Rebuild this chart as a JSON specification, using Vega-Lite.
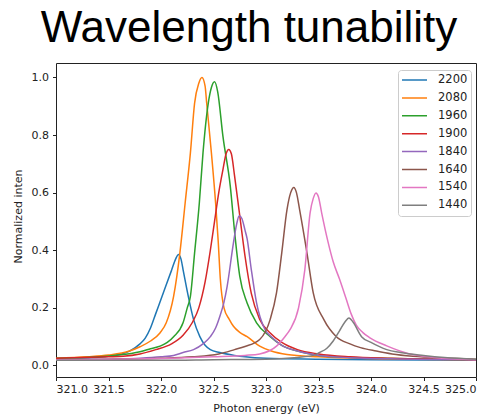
{
  "$schema": "https://vega.github.io/schema/vega-lite/v6.json",
  "autosize": "none",
  "width": 420,
  "height": 314,
  "padding": {"left": 56, "top": 63, "right": 22, "bottom": 38},
  "background": "white",
  "title": {
    "text": "Wavelength tunability",
    "font": "Liberation Sans",
    "fontSize": 44,
    "fontWeight": "normal",
    "color": "#000000",
    "anchor": "middle",
    "frame": "group",
    "baseline": "alphabetic",
    "offset": 20,
    "dx": -17,
    "dy": 43
  },
  "config": {
    "view": {"stroke": "#222222", "strokeWidth": 1},
    "axis": {
      "grid": false,
      "domain": false,
      "tickColor": "#222222",
      "tickSize": 3.5,
      "labelFont": "DejaVu Sans",
      "labelFontSize": 11,
      "labelColor": "#222222",
      "titleFont": "DejaVu Sans",
      "titleFontSize": 11,
      "titleFontWeight": "normal",
      "titleColor": "#222222"
    }
  },
  "data": {
    "values": [
      {"s": "2200", "x": 321.0, "y": 0.022},
      {"s": "2200", "x": 321.3, "y": 0.026},
      {"s": "2200", "x": 321.5, "y": 0.032},
      {"s": "2200", "x": 321.6, "y": 0.038},
      {"s": "2200", "x": 321.7, "y": 0.05},
      {"s": "2200", "x": 321.8, "y": 0.075},
      {"s": "2200", "x": 321.85, "y": 0.095},
      {"s": "2200", "x": 321.9, "y": 0.13},
      {"s": "2200", "x": 321.95, "y": 0.18},
      {"s": "2200", "x": 322.0, "y": 0.23},
      {"s": "2200", "x": 322.05, "y": 0.28},
      {"s": "2200", "x": 322.1, "y": 0.33},
      {"s": "2200", "x": 322.14, "y": 0.37},
      {"s": "2200", "x": 322.165, "y": 0.385},
      {"s": "2200", "x": 322.19, "y": 0.37},
      {"s": "2200", "x": 322.21, "y": 0.333},
      {"s": "2200", "x": 322.26, "y": 0.24},
      {"s": "2200", "x": 322.31, "y": 0.16},
      {"s": "2200", "x": 322.37, "y": 0.1},
      {"s": "2200", "x": 322.42, "y": 0.07},
      {"s": "2200", "x": 322.47, "y": 0.055},
      {"s": "2200", "x": 322.56, "y": 0.045},
      {"s": "2200", "x": 322.7, "y": 0.035},
      {"s": "2200", "x": 322.8, "y": 0.03},
      {"s": "2200", "x": 323.0, "y": 0.025},
      {"s": "2200", "x": 323.5, "y": 0.022},
      {"s": "2200", "x": 324.0, "y": 0.02},
      {"s": "2200", "x": 325.0, "y": 0.018},

      {"s": "2080", "x": 321.0, "y": 0.025},
      {"s": "2080", "x": 321.3, "y": 0.03},
      {"s": "2080", "x": 321.5, "y": 0.036},
      {"s": "2080", "x": 321.7, "y": 0.05},
      {"s": "2080", "x": 321.8, "y": 0.065},
      {"s": "2080", "x": 321.9, "y": 0.085},
      {"s": "2080", "x": 321.99, "y": 0.113},
      {"s": "2080", "x": 322.05, "y": 0.148},
      {"s": "2080", "x": 322.12, "y": 0.24},
      {"s": "2080", "x": 322.18, "y": 0.391},
      {"s": "2080", "x": 322.23, "y": 0.564},
      {"s": "2080", "x": 322.28, "y": 0.738},
      {"s": "2080", "x": 322.32, "y": 0.911},
      {"s": "2080", "x": 322.36, "y": 0.98},
      {"s": "2080", "x": 322.39, "y": 1.0},
      {"s": "2080", "x": 322.42, "y": 0.97},
      {"s": "2080", "x": 322.435, "y": 0.911},
      {"s": "2080", "x": 322.48, "y": 0.738},
      {"s": "2080", "x": 322.52, "y": 0.564},
      {"s": "2080", "x": 322.545, "y": 0.43},
      {"s": "2080", "x": 322.565, "y": 0.3},
      {"s": "2080", "x": 322.6, "y": 0.2},
      {"s": "2080", "x": 322.65, "y": 0.16},
      {"s": "2080", "x": 322.69, "y": 0.136},
      {"s": "2080", "x": 322.75, "y": 0.115},
      {"s": "2080", "x": 322.82, "y": 0.1},
      {"s": "2080", "x": 322.94, "y": 0.067},
      {"s": "2080", "x": 323.05, "y": 0.05},
      {"s": "2080", "x": 323.2, "y": 0.038},
      {"s": "2080", "x": 323.5, "y": 0.03},
      {"s": "2080", "x": 324.0, "y": 0.024},
      {"s": "2080", "x": 325.0, "y": 0.02},

      {"s": "1960", "x": 321.0, "y": 0.025},
      {"s": "1960", "x": 321.3, "y": 0.028},
      {"s": "1960", "x": 321.6, "y": 0.036},
      {"s": "1960", "x": 321.8, "y": 0.048},
      {"s": "1960", "x": 321.9, "y": 0.058},
      {"s": "1960", "x": 321.99, "y": 0.067},
      {"s": "1960", "x": 322.06, "y": 0.08},
      {"s": "1960", "x": 322.12, "y": 0.1},
      {"s": "1960", "x": 322.21, "y": 0.148},
      {"s": "1960", "x": 322.25, "y": 0.2},
      {"s": "1960", "x": 322.28, "y": 0.24},
      {"s": "1960", "x": 322.32, "y": 0.391},
      {"s": "1960", "x": 322.365, "y": 0.564},
      {"s": "1960", "x": 322.4, "y": 0.738},
      {"s": "1960", "x": 322.45, "y": 0.91},
      {"s": "1960", "x": 322.48, "y": 0.965},
      {"s": "1960", "x": 322.51, "y": 0.985},
      {"s": "1960", "x": 322.54, "y": 0.95},
      {"s": "1960", "x": 322.59, "y": 0.795},
      {"s": "1960", "x": 322.66, "y": 0.622},
      {"s": "1960", "x": 322.705, "y": 0.449},
      {"s": "1960", "x": 322.75, "y": 0.31},
      {"s": "1960", "x": 322.82, "y": 0.217},
      {"s": "1960", "x": 322.91, "y": 0.148},
      {"s": "1960", "x": 323.04, "y": 0.1},
      {"s": "1960", "x": 323.15, "y": 0.07},
      {"s": "1960", "x": 323.3, "y": 0.05},
      {"s": "1960", "x": 323.5, "y": 0.035},
      {"s": "1960", "x": 323.8, "y": 0.028},
      {"s": "1960", "x": 324.2, "y": 0.024},
      {"s": "1960", "x": 325.0, "y": 0.02},

      {"s": "1900", "x": 321.0, "y": 0.025},
      {"s": "1900", "x": 321.5, "y": 0.03},
      {"s": "1900", "x": 321.64, "y": 0.032},
      {"s": "1900", "x": 321.8, "y": 0.04},
      {"s": "1900", "x": 321.95, "y": 0.055},
      {"s": "1900", "x": 322.1, "y": 0.075},
      {"s": "1900", "x": 322.21, "y": 0.105},
      {"s": "1900", "x": 322.3, "y": 0.15},
      {"s": "1900", "x": 322.36, "y": 0.2},
      {"s": "1900", "x": 322.42, "y": 0.29},
      {"s": "1900", "x": 322.47, "y": 0.4},
      {"s": "1900", "x": 322.51, "y": 0.5},
      {"s": "1900", "x": 322.55, "y": 0.6},
      {"s": "1900", "x": 322.59, "y": 0.68},
      {"s": "1900", "x": 322.62, "y": 0.735},
      {"s": "1900", "x": 322.645, "y": 0.75},
      {"s": "1900", "x": 322.67, "y": 0.735},
      {"s": "1900", "x": 322.7, "y": 0.66},
      {"s": "1900", "x": 322.75, "y": 0.52},
      {"s": "1900", "x": 322.8, "y": 0.38},
      {"s": "1900", "x": 322.86, "y": 0.25},
      {"s": "1900", "x": 322.94, "y": 0.16},
      {"s": "1900", "x": 323.04, "y": 0.113},
      {"s": "1900", "x": 323.15, "y": 0.08},
      {"s": "1900", "x": 323.3, "y": 0.055},
      {"s": "1900", "x": 323.5, "y": 0.04},
      {"s": "1900", "x": 323.8, "y": 0.03},
      {"s": "1900", "x": 324.2, "y": 0.025},
      {"s": "1900", "x": 325.0, "y": 0.02},

      {"s": "1840", "x": 321.0, "y": 0.02},
      {"s": "1840", "x": 321.5, "y": 0.022},
      {"s": "1840", "x": 321.8, "y": 0.025},
      {"s": "1840", "x": 322.0, "y": 0.03},
      {"s": "1840", "x": 322.12, "y": 0.035},
      {"s": "1840", "x": 322.21, "y": 0.045},
      {"s": "1840", "x": 322.31, "y": 0.055},
      {"s": "1840", "x": 322.4, "y": 0.075},
      {"s": "1840", "x": 322.47, "y": 0.1},
      {"s": "1840", "x": 322.52, "y": 0.13},
      {"s": "1840", "x": 322.56, "y": 0.17},
      {"s": "1840", "x": 322.6, "y": 0.22},
      {"s": "1840", "x": 322.63, "y": 0.275},
      {"s": "1840", "x": 322.69, "y": 0.426},
      {"s": "1840", "x": 322.72, "y": 0.49},
      {"s": "1840", "x": 322.745, "y": 0.52},
      {"s": "1840", "x": 322.77, "y": 0.51},
      {"s": "1840", "x": 322.8, "y": 0.47},
      {"s": "1840", "x": 322.82, "y": 0.44},
      {"s": "1840", "x": 322.86, "y": 0.333},
      {"s": "1840", "x": 322.91, "y": 0.217},
      {"s": "1840", "x": 322.99, "y": 0.125},
      {"s": "1840", "x": 323.05, "y": 0.1},
      {"s": "1840", "x": 323.15, "y": 0.07},
      {"s": "1840", "x": 323.3, "y": 0.05},
      {"s": "1840", "x": 323.5, "y": 0.035},
      {"s": "1840", "x": 323.8, "y": 0.027},
      {"s": "1840", "x": 324.2, "y": 0.023},
      {"s": "1840", "x": 325.0, "y": 0.02},

      {"s": "1640", "x": 321.0, "y": 0.02},
      {"s": "1640", "x": 321.5, "y": 0.022},
      {"s": "1640", "x": 322.0, "y": 0.025},
      {"s": "1640", "x": 322.3, "y": 0.03},
      {"s": "1640", "x": 322.55, "y": 0.04},
      {"s": "1640", "x": 322.7, "y": 0.055},
      {"s": "1640", "x": 322.8, "y": 0.066},
      {"s": "1640", "x": 322.94, "y": 0.09},
      {"s": "1640", "x": 323.04, "y": 0.16},
      {"s": "1640", "x": 323.1, "y": 0.252},
      {"s": "1640", "x": 323.15, "y": 0.391},
      {"s": "1640", "x": 323.2, "y": 0.541},
      {"s": "1640", "x": 323.235, "y": 0.6},
      {"s": "1640", "x": 323.265, "y": 0.618},
      {"s": "1640", "x": 323.29, "y": 0.6},
      {"s": "1640", "x": 323.32, "y": 0.541},
      {"s": "1640", "x": 323.39, "y": 0.391},
      {"s": "1640", "x": 323.45, "y": 0.252},
      {"s": "1640", "x": 323.55, "y": 0.16},
      {"s": "1640", "x": 323.67, "y": 0.1},
      {"s": "1640", "x": 323.8, "y": 0.075},
      {"s": "1640", "x": 323.9, "y": 0.062},
      {"s": "1640", "x": 324.05, "y": 0.05},
      {"s": "1640", "x": 324.2, "y": 0.04},
      {"s": "1640", "x": 324.4, "y": 0.032},
      {"s": "1640", "x": 324.7, "y": 0.026},
      {"s": "1640", "x": 325.0, "y": 0.022},

      {"s": "1540", "x": 321.0, "y": 0.02},
      {"s": "1540", "x": 321.5, "y": 0.022},
      {"s": "1540", "x": 322.0, "y": 0.024},
      {"s": "1540", "x": 322.5, "y": 0.03},
      {"s": "1540", "x": 322.8, "y": 0.035},
      {"s": "1540", "x": 322.94, "y": 0.04},
      {"s": "1540", "x": 323.1, "y": 0.067},
      {"s": "1540", "x": 323.18, "y": 0.1},
      {"s": "1540", "x": 323.23, "y": 0.125},
      {"s": "1540", "x": 323.31, "y": 0.2},
      {"s": "1540", "x": 323.37, "y": 0.333},
      {"s": "1540", "x": 323.42, "y": 0.53},
      {"s": "1540", "x": 323.45, "y": 0.58},
      {"s": "1540", "x": 323.476, "y": 0.599},
      {"s": "1540", "x": 323.5, "y": 0.585},
      {"s": "1540", "x": 323.53, "y": 0.53},
      {"s": "1540", "x": 323.59, "y": 0.43},
      {"s": "1540", "x": 323.64, "y": 0.36},
      {"s": "1540", "x": 323.7, "y": 0.3},
      {"s": "1540", "x": 323.76, "y": 0.235},
      {"s": "1540", "x": 323.81, "y": 0.18},
      {"s": "1540", "x": 323.86, "y": 0.14},
      {"s": "1540", "x": 323.92, "y": 0.115},
      {"s": "1540", "x": 323.99, "y": 0.096},
      {"s": "1540", "x": 324.15, "y": 0.068},
      {"s": "1540", "x": 324.37, "y": 0.04},
      {"s": "1540", "x": 324.6, "y": 0.028},
      {"s": "1540", "x": 325.0, "y": 0.02},

      {"s": "1440", "x": 321.0, "y": 0.018},
      {"s": "1440", "x": 322.0, "y": 0.018},
      {"s": "1440", "x": 322.5, "y": 0.02},
      {"s": "1440", "x": 323.0, "y": 0.022},
      {"s": "1440", "x": 323.3, "y": 0.028},
      {"s": "1440", "x": 323.45, "y": 0.035},
      {"s": "1440", "x": 323.51, "y": 0.045},
      {"s": "1440", "x": 323.58, "y": 0.06},
      {"s": "1440", "x": 323.64, "y": 0.085},
      {"s": "1440", "x": 323.7, "y": 0.12},
      {"s": "1440", "x": 323.75, "y": 0.15},
      {"s": "1440", "x": 323.79, "y": 0.165},
      {"s": "1440", "x": 323.83, "y": 0.15},
      {"s": "1440", "x": 323.91, "y": 0.1},
      {"s": "1440", "x": 324.0, "y": 0.08},
      {"s": "1440", "x": 324.15, "y": 0.055},
      {"s": "1440", "x": 324.28, "y": 0.045},
      {"s": "1440", "x": 324.5, "y": 0.035},
      {"s": "1440", "x": 324.7, "y": 0.028},
      {"s": "1440", "x": 325.0, "y": 0.022}
    ]
  },
  "mark": {"type": "line", "strokeWidth": 1.5, "interpolate": "monotone", "clip": true},
  "encoding": {
    "x": {
      "field": "x",
      "type": "quantitative",
      "scale": {"domain": [321, 325], "nice": false, "zero": false},
      "axis": {
        "values": [321, 321.5, 322, 322.5, 323, 323.5, 324, 324.5, 325],
        "format": ".1f",
        "labelPadding": 3,
        "title": "Photon energy (eV)",
        "titleY": 31,
        "titleBaseline": "middle"
      }
    },
    "y": {
      "field": "y",
      "type": "quantitative",
      "scale": {"domain": [-0.04, 1.05], "nice": false, "zero": false},
      "axis": {
        "values": [0, 0.2, 0.4, 0.6, 0.8, 1.0],
        "format": ".1f",
        "labelPadding": 4,
        "title": "Normalized inten",
        "titleX": -38,
        "titleY": 153,
        "titleAngle": 270,
        "titleAlign": "center",
        "titleBaseline": "middle"
      }
    },
    "color": {
      "field": "s",
      "type": "nominal",
      "sort": ["2200", "2080", "1960", "1900", "1840", "1640", "1540", "1440"],
      "scale": {
        "domain": ["2200", "2080", "1960", "1900", "1840", "1640", "1540", "1440"],
        "range": ["#1f77b4", "#ff7f0e", "#2ca02c", "#d62728", "#9467bd", "#8c564b", "#e377c2", "#7f7f7f"]
      },
      "legend": {
        "title": null,
        "orient": "none",
        "legendX": 342,
        "legendY": 7,
        "padding": 3,
        "fillColor": "white",
        "strokeColor": "#cccccc",
        "cornerRadius": 3,
        "symbolType": "stroke",
        "symbolSize": 625,
        "symbolStrokeWidth": 1.5,
        "clipHeight": 14,
        "rowPadding": 3.9,
        "labelOffset": 10,
        "labelFont": "DejaVu Sans",
        "labelFontSize": 11.5,
        "labelColor": "#222222"
      }
    }
  }
}
